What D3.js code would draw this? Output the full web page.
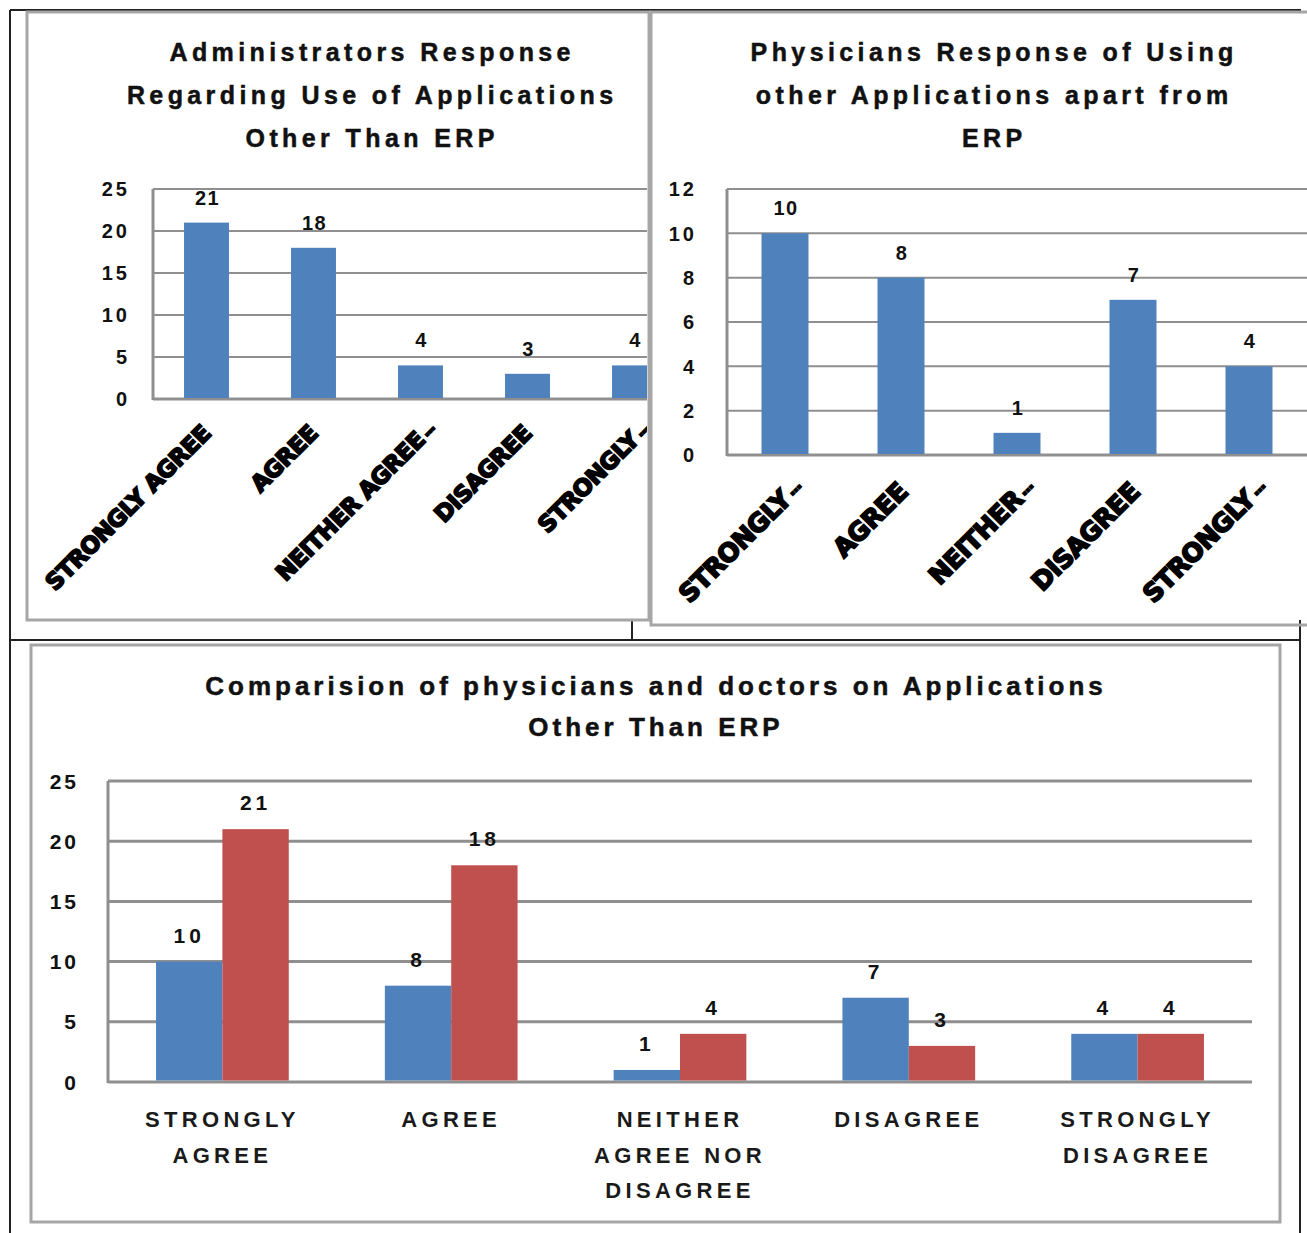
<!DOCTYPE html>
<html>
<head>
<meta charset="utf-8">
<script src="https://cdn.jsdelivr.net/npm/d3@7"></script>
<style>
  html, body { margin: 0; padding: 0; background: #fff; }
  svg { display: block; }
</style>
</head>
<body>
<svg id="chart" width="1307" height="1233"></svg>
<script>
// Survey responses on using applications other than ERP
const categories = ["STRONGLY AGREE", "AGREE", "NEITHER AGREE NOR DISAGREE", "DISAGREE", "STRONGLY DISAGREE"];
const adminAxisLabels = ["STRONGLY AGREE", "AGREE", "NEITHER AGREE…", "DISAGREE", "STRONGLY…"];
const physicianAxisLabels = ["STRONGLY…", "AGREE", "NEITHER…", "DISAGREE", "STRONGLY…"];
const comparisonAxisLabels = [["STRONGLY", "AGREE"], ["AGREE"], ["NEITHER", "AGREE NOR", "DISAGREE"], ["DISAGREE"], ["STRONGLY", "DISAGREE"]];

const administrators = [21, 18, 4, 3, 4];
const physicians = [10, 8, 1, 7, 4];

const adminTicks = [0, 5, 10, 15, 20, 25];
const physicianTicks = [0, 2, 4, 6, 8, 10, 12];
const comparisonTicks = [0, 5, 10, 15, 20, 25];

const adminTitle = ["Administrators Response", "Regarding Use of Applications", "Other Than ERP"];
const physicianTitle = ["Physicians Response of Using", "other Applications apart from", "ERP"];
const comparisonTitle = ["Comparision of physicians and doctors on Applications", "Other Than ERP"];

const BLUE = "#4F81BD";
const RED = "#C0504D";
const GRID = "#8f8f8f";
const PANEL = "#a6a6a6";
const FONT = "'Liberation Sans', Arial, sans-serif";

const svg = d3.select("#chart");

// ---- outer frame and panel borders ----
const frame = svg.append("g").attr("fill", "none");
frame.append("line").attr("x1", 10).attr("y1", 10).attr("x2", 1301).attr("y2", 10).attr("stroke", "#222").attr("stroke-width", 2);
frame.append("line").attr("x1", 10).attr("y1", 10).attr("x2", 10).attr("y2", 1233).attr("stroke", "#222").attr("stroke-width", 2);
frame.append("line").attr("x1", 10).attr("y1", 640).attr("x2", 1301).attr("y2", 640).attr("stroke", "#222").attr("stroke-width", 2);
frame.append("line").attr("x1", 1300).attr("y1", 620).attr("x2", 1300).attr("y2", 1233).attr("stroke", "#222").attr("stroke-width", 2);
frame.append("line").attr("x1", 632).attr("y1", 620).attr("x2", 632).attr("y2", 640).attr("stroke", "#222").attr("stroke-width", 2);

// top-left panel
frame.append("rect").attr("x", 27).attr("y", 12).attr("width", 622).attr("height", 608).attr("stroke", PANEL).attr("stroke-width", 3);
// top-right panel (continues beyond the right edge)
frame.append("rect").attr("x", 651).attr("y", 12).attr("width", 680).attr("height", 613).attr("stroke", PANEL).attr("stroke-width", 3);
// bottom panel
frame.append("rect").attr("x", 31).attr("y", 645).attr("width", 1249).attr("height", 577).attr("stroke", PANEL).attr("stroke-width", 3);

// clip for the top-left chart, whose last column runs into the panel edge
svg.append("defs").append("clipPath").attr("id", "clipLeft")
  .append("rect").attr("x", 27).attr("y", 12).attr("width", 620).attr("height", 608);

function drawTitle(g, lines, cx, y0, lineGap, size, spacing) {
  g.append("text")
    .attr("font-family", FONT).attr("font-weight", "bold").attr("font-size", size)
    .attr("letter-spacing", spacing).attr("text-anchor", "middle")
    .attr("fill", "#111").attr("stroke", "#111").attr("stroke-width", 0.5)
    .selectAll("tspan").data(lines).join("tspan")
    .attr("x", cx + spacing / 2).attr("y", (d, i) => y0 + i * lineGap)
    .text(d => d);
}

// single-series column chart with rotated category labels
function drawSingle(opts) {
  const g = svg.append("g");
  const x = d3.scaleBand().domain(categories).range([opts.left, opts.right])
    .paddingInner(opts.pad).paddingOuter(opts.pad / 2);
  const y = d3.scaleLinear().domain([0, d3.max(opts.ticks)]).range([opts.bottom, opts.top]);

  drawTitle(g, opts.title, opts.titleX, 61, 43, 25, 4.4);

  const plot = g.append("g");
  if (opts.clip) plot.attr("clip-path", "url(#" + opts.clip + ")");

  // gridlines
  plot.append("g").selectAll("line").data(opts.ticks).join("line")
    .attr("x1", opts.left).attr("x2", opts.right + 10)
    .attr("y1", d => y(d)).attr("y2", d => y(d))
    .attr("stroke", GRID).attr("stroke-width", d => d === 0 ? 3 : 2);
  // plot-area left edge
  plot.append("line").attr("x1", opts.left).attr("x2", opts.left)
    .attr("y1", y.range()[1]).attr("y2", y.range()[0] + 1)
    .attr("stroke", GRID).attr("stroke-width", 3);

  // bars
  plot.append("g").selectAll("rect").data(opts.values).join("rect")
    .attr("x", (d, i) => x(categories[i]))
    .attr("width", x.bandwidth())
    .attr("y", d => y(d))
    .attr("height", d => y(0) - y(d) - 1)
    .attr("fill", BLUE);

  // value labels
  plot.append("g").selectAll("text").data(opts.values).join("text")
    .attr("x", (d, i) => x(categories[i]) + x.bandwidth() / 2 + 1)
    .attr("y", d => y(d) - 18)
    .attr("text-anchor", "middle")
    .attr("font-family", FONT).attr("font-weight", "bold").attr("font-size", 20)
    .attr("letter-spacing", 1.5)
    .attr("fill", "#111")
    .text(d => d);

  // y tick labels
  g.append("g").selectAll("text").data(opts.ticks).join("text")
    .attr("x", opts.tickX + 3).attr("y", d => y(d)).attr("dy", "0.36em")
    .attr("text-anchor", "end")
    .attr("font-family", FONT).attr("font-weight", "bold").attr("font-size", 20)
    .attr("letter-spacing", 3)
    .attr("fill", "#111")
    .text(d => d);

  // rotated category labels, heavy type; a truncation mark is set small
  plot.append("g").selectAll("text").data(opts.labels).join("text")
    .attr("transform", (d, i) => {
      const cut = d.endsWith("…");
      const cx = x(categories[i]) + x.bandwidth() / 2 + opts.labelDx + (cut ? 11 : 0);
      const cy = opts.bottom + opts.labelDy - (cut ? 4 : 0);
      return `translate(${cx},${cy}) rotate(-45)`;
    })
    .attr("text-anchor", "end")
    .attr("dominant-baseline", "central")
    .attr("font-family", "'DejaVu Sans', sans-serif").attr("font-weight", "bold")
    .attr("font-size", opts.labelSize)
    .attr("letter-spacing", -0.5)
    .attr("fill", "#000").attr("stroke", "#000").attr("stroke-width", 1.8)
    .each(function (label) {
      const t = d3.select(this);
      if (label.endsWith("…")) {
        t.append("tspan").text(label.slice(0, -1));
        t.append("tspan").attr("font-size", opts.labelSize * 0.55).attr("dx", 3).text("…");
      } else {
        t.text(label);
      }
    });
}

drawSingle({
  title: adminTitle, titleX: 370,
  values: administrators, ticks: adminTicks, labels: adminAxisLabels,
  left: 153, right: 688, top: 189, bottom: 399, pad: 0.58,
  tickX: 127, clip: "clipLeft", labelDx: 0, labelDy: 30, labelSize: 23
});

drawSingle({
  title: physicianTitle, titleX: 992,
  values: physicians, ticks: physicianTicks, labels: physicianAxisLabels,
  left: 727, right: 1307, top: 189, bottom: 455, pad: 0.595,
  tickX: 694, clip: null, labelDx: 2, labelDy: 32, labelSize: 25.5
});

// ---- grouped comparison chart ----
(function drawComparison() {
  const g = svg.append("g");
  const left = 108, right = 1252, top = 781, bottom = 1082;
  const series = [
    { key: "physicians", values: physicians, color: BLUE },
    { key: "administrators", values: administrators, color: RED }
  ];
  const x0 = d3.scaleBand().domain(categories).range([left, right]).paddingInner(0.42).paddingOuter(0.21);
  const x1 = d3.scaleBand().domain(series.map(s => s.key)).range([0, x0.bandwidth()]);
  const y = d3.scaleLinear().domain([0, 25]).range([bottom, top]);

  drawTitle(g, comparisonTitle, 654, 695, 41, 26, 4);

  g.append("g").selectAll("line").data(comparisonTicks).join("line")
    .attr("x1", left).attr("x2", right)
    .attr("y1", d => y(d)).attr("y2", d => y(d))
    .attr("stroke", GRID).attr("stroke-width", 3);
  g.append("line").attr("x1", left).attr("x2", left).attr("y1", top).attr("y2", bottom + 1)
    .attr("stroke", GRID).attr("stroke-width", 3);

  const rows = [];
  series.forEach(s => s.values.forEach((v, i) => rows.push({ cat: categories[i], key: s.key, v, color: s.color })));

  g.append("g").selectAll("rect").data(rows).join("rect")
    .attr("x", d => x0(d.cat) + x1(d.key))
    .attr("width", x1.bandwidth())
    .attr("y", d => y(d.v))
    .attr("height", d => y(0) - y(d.v) - 1.5)
    .attr("fill", d => d.color);

  g.append("g").selectAll("text").data(rows).join("text")
    .attr("x", d => x0(d.cat) + x1(d.key) + x1.bandwidth() / 2)
    .attr("y", d => y(d.v) - 19)
    .attr("text-anchor", "middle")
    .attr("font-family", FONT).attr("font-weight", "bold").attr("font-size", 21)
    .attr("letter-spacing", 4).attr("fill", "#111")
    .text(d => d.v);

  g.append("g").selectAll("text").data(comparisonTicks).join("text")
    .attr("x", 79).attr("y", d => y(d)).attr("dy", "0.36em")
    .attr("text-anchor", "end")
    .attr("font-family", FONT).attr("font-weight", "bold").attr("font-size", 21)
    .attr("letter-spacing", 3).attr("fill", "#111")
    .text(d => d);

  g.append("g").selectAll("text").data(comparisonAxisLabels).join("text")
    .attr("font-family", FONT).attr("font-weight", "bold").attr("font-size", 22)
    .attr("letter-spacing", 4.3).attr("text-anchor", "middle").attr("fill", "#1a1a1a")
    .each(function (lines, i) {
      const cx = x0(categories[i]) + x0.bandwidth() / 2;
      d3.select(this).selectAll("tspan").data(lines).join("tspan")
        .attr("x", cx).attr("y", (d, j) => 1127 + j * 35.5)
        .text(d => d);
    });
})();
</script>
</body>
</html>
